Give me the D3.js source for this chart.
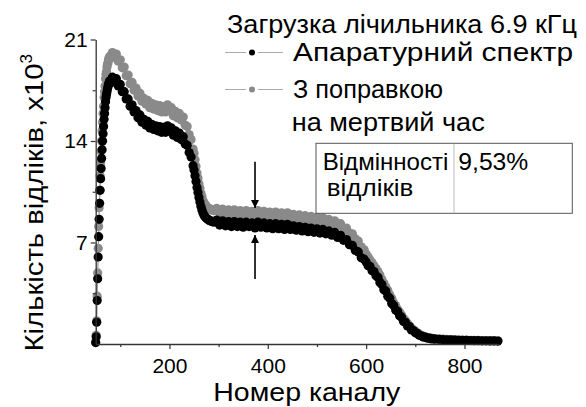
<!DOCTYPE html>
<html><head><meta charset="utf-8">
<script src="https://cdn.jsdelivr.net/npm/d3@7"></script>
<style>body{margin:0;background:#fff} svg{display:block}</style></head><body>
<script>
// ---- data ----
const channels=[50,51,52,53,54,55,56,57,58,59,60,61,62,63,64,65,66,67,68,69,70,71,72,73,74,75,76,77,78,79,
80,84,88,92,96,100,104,108,112,116,120,124,128,132,136,140,144,148,152,156,160,164,168,172,176,180,184,188,192,196,200,204,208,212,216,220,224,228,232,236,240,244,248,
250,252,254,256,258,260,262,264,266,268,270,272,274,276,278,280,282,284,286,288,290,
296,302,308,314,320,326,332,338,344,350,356,362,368,374,380,386,392,398,404,410,416,422,428,434,440,446,452,458,464,470,476,482,488,494,500,506,512,518,524,530,536,542,548,554,560,566,572,578,584,590,596,
600,604,608,612,616,620,624,628,632,636,640,644,648,652,656,660,664,668,672,676,680,684,688,692,696,700,704,708,712,716,720,724,728,732,736,740,
748,756,764,772,780,788,796,804,812,820,828,836,844,852,860,868];
// Апаратурний спектр (x10^3)
const measured=[0.1,0.5,1.5,3.0,4.5,6.0,7.4,8.6,9.7,10.6,11.4,12.1,12.8,13.4,14.0,14.5,15.0,15.5,15.9,16.3,16.7,17.0,17.2,17.4,17.6,17.75,17.9,18.0,18.1,18.15,
18.0,18.4,18.1,18.3,17.8,17.9,17.4,17.4,16.9,16.9,16.4,16.5,16.0,16.1,15.6,15.8,15.3,15.5,15.1,15.35,14.9,15.15,14.8,15.05,14.7,15.0,14.6,14.95,14.6,15.05,14.7,14.9,14.4,14.7,14.25,14.55,14.1,14.3,13.8,13.7,13.2,12.9,12.3,
12.0,11.6,11.2,10.8,10.45,10.1,9.8,9.5,9.25,9.05,8.9,8.8,8.7,8.65,8.6,8.55,8.5,8.5,8.45,8.45,8.4,
8.55,8.2,8.5,8.15,8.45,8.1,8.45,8.1,8.4,8.05,8.4,8.1,8.35,8.0,8.4,8.05,8.35,8.0,8.3,7.95,8.3,7.95,8.25,7.9,8.25,7.9,8.15,7.85,8.1,7.8,8.05,7.75,8.0,7.7,7.95,7.65,7.9,7.6,7.8,7.5,7.7,7.35,7.5,7.15,7.2,6.85,6.8,6.45,6.35,5.95,5.85,
5.65,5.4,5.35,5.05,5.0,4.7,4.6,4.25,4.1,3.75,3.65,3.3,3.15,2.8,2.65,2.35,2.25,1.95,1.85,1.55,1.5,1.25,1.2,0.97,0.93,0.77,0.73,0.6,0.57,0.48,0.48,0.41,0.41,0.36,0.36,0.33,
0.32,0.3,0.29,0.28,0.27,0.26,0.25,0.25,0.24,0.23,0.23,0.22,0.22,0.21,0.21,0.2];
// З поправкою на мертвий час (x10^3)
const corrected=[0.1,0.6,1.6,3.3,4.9,6.6,8.1,9.4,10.6,11.6,12.5,13.3,14.0,14.7,15.3,15.9,16.4,17.0,17.4,17.8,18.3,18.6,18.8,19.1,19.3,19.4,19.6,19.7,19.8,19.85,
19.7,20.1,19.8,20.0,19.5,19.6,19.05,19.1,18.5,18.55,17.95,18.05,17.5,17.65,17.1,17.3,16.75,16.95,16.55,16.8,16.3,16.6,16.2,16.5,16.1,16.45,16.0,16.35,16.0,16.5,16.1,16.3,15.75,16.05,15.6,15.9,15.45,15.65,15.1,15.0,14.45,14.1,13.45,
13.15,12.7,12.25,11.8,11.45,11.05,10.75,10.4,10.15,9.9,9.75,9.65,9.55,9.45,9.4,9.35,9.3,9.3,9.25,9.25,9.2,
9.35,9.05,9.3,9.0,9.25,8.95,9.25,8.95,9.2,8.9,9.2,8.9,9.15,8.85,9.2,8.85,9.15,8.8,9.1,8.75,9.1,8.75,9.05,8.7,9.05,8.7,8.95,8.65,8.9,8.6,8.85,8.55,8.8,8.5,8.75,8.45,8.7,8.4,8.6,8.3,8.5,8.15,8.3,7.95,8.0,7.65,7.6,7.25,7.1,6.7,6.5,
6.2,6.0,5.8,5.6,5.4,5.2,5.0,4.75,4.45,4.2,3.95,3.7,3.4,3.15,2.85,2.65,2.4,2.2,2.0,1.75,1.6,1.42,1.26,1.1,0.98,0.88,0.77,0.68,0.6,0.55,0.5,0.46,0.44,0.4,0.38,0.37,
0.35,0.33,0.32,0.31,0.3,0.28,0.27,0.27,0.26,0.25,0.25,0.24,0.24,0.23,0.23,0.22];
const xTicks=[200,400,600,800];
const xMinor=[100,300,500,700];
const yTicks=[7,14,21];
const yMinor=[3.5,10.5,17.5];
const legendTitle="Загрузка лічильника 6.9 кГц";
const seriesLabels=["Апаратурний спектр","З поправкою","на мертвий час"];
const tableLabel=["Відмінності","відліків"];
const tableValue="9,53%";
const arrowChannel=374;
const arrowTip=[9.38,7.52];
const arrowTail=[12.57,4.48];
const xTitle="Номер каналу";
const yTitle="Кількість відліків, x10";

// ---- drawing ----
const W=586,H=407;
const FONT="'Liberation Sans', Arial, sans-serif";
const svg=d3.select("body").append("svg").attr("width",W).attr("height",H)
  .style("font-family",FONT);
const x=d3.scaleLinear().domain([50,870]).range([95.7,498.9]);
const y=d3.scaleLinear().domain([0,21]).range([344,39.5]);
const AX="#333";

const data=channels.map((c,i)=>({c,m:measured[i],k:corrected[i]}));
const lineK=d3.line().x(d=>x(d.c)).y(d=>y(d.k));
const lineM=d3.line().x(d=>x(d.c)).y(d=>y(d.m));
const R=4.6;

svg.append("path").datum(data).attr("d",lineK).attr("fill","none").attr("stroke","#999").attr("stroke-width",0.8);
svg.append("g").selectAll("circle").data(data).join("circle")
  .attr("cx",d=>x(d.c)).attr("cy",d=>y(d.k)).attr("r",R).attr("fill","#8a8a8a");
svg.append("path").datum(data).attr("d",lineM).attr("fill","none").attr("stroke","#999").attr("stroke-width",0.8);
svg.append("g").selectAll("circle").data(data).join("circle")
  .attr("cx",d=>x(d.c)).attr("cy",d=>y(d.m)).attr("r",R).attr("fill","#000");

function styleAxis(g){
  g.select(".domain").attr("stroke",AX).attr("stroke-width",1.3);
  g.selectAll(".tick line").attr("stroke",AX).attr("stroke-width",1.2);
  g.selectAll("text").attr("fill","#000").style("font-family",FONT);
}
const gx=svg.append("g").attr("transform",`translate(0,${y(0)})`)
  .call(d3.axisBottom(x).tickValues(xTicks).tickSize(5).tickSizeOuter(0).tickPadding(9))
  .call(styleAxis);
gx.selectAll("text").attr("font-size",21);
svg.append("g").attr("transform",`translate(0,${y(0)})`)
  .call(d3.axisBottom(x).tickValues(xMinor).tickSize(3).tickFormat(""))
  .call(g=>g.select(".domain").remove()).call(styleAxis);

const gy=svg.append("g").attr("transform",`translate(${x(50)},0)`)
  .call(d3.axisLeft(y).tickValues(yTicks).tickSize(5).tickSizeOuter(0).tickPadding(3))
  .call(styleAxis);
gy.selectAll("text").attr("font-size",21);
svg.append("g").attr("transform",`translate(${x(50)},0)`)
  .call(d3.axisLeft(y).tickValues(yMinor).tickSize(3).tickFormat(""))
  .call(g=>g.select(".domain").remove()).call(styleAxis);

function txt(xp,yp,size,s,len){
  const t=svg.append("text").attr("x",xp).attr("y",yp).attr("font-size",size).text(s);
  if(len) t.attr("textLength",len).attr("lengthAdjust","spacingAndGlyphs");
  return t;
}
// axis titles
txt(213.3,401,25,xTitle,187);
const yt=svg.append("text").attr("transform","translate(43,351.5) rotate(-90)")
  .attr("font-size",25);
yt.append("tspan").attr("textLength",288).attr("lengthAdjust","spacingAndGlyphs").text(yTitle);
yt.append("tspan").attr("dy",-11).attr("font-size",17).text("3");

// arrows
const defs=svg.append("defs");
defs.append("marker").attr("id","ah").attr("viewBox","0 0 10 10").attr("refX",10).attr("refY",5)
  .attr("markerWidth",5).attr("markerHeight",5).attr("markerUnits","strokeWidth").attr("orient","auto")
  .append("path").attr("d","M0,0 L10,5 L0,10 z").attr("fill","#000");
[0,1].forEach(i=>{
  svg.append("line").attr("x1",x(arrowChannel)).attr("x2",x(arrowChannel))
    .attr("y1",y(arrowTail[i])).attr("y2",y(arrowTip[i]))
    .attr("stroke","#000").attr("stroke-width",1.6).attr("marker-end","url(#ah)");
});

// legend
txt(227,33,25,legendTitle,350);
const legRows=[{y:52.5,fill:"#000",label:seriesLabels[0],ty:61,len:280},{y:89.5,fill:"#8a8a8a",label:seriesLabels[1],ty:97.5,len:150}];
legRows.forEach(r=>{
  svg.append("line").attr("x1",225).attr("x2",283).attr("y1",r.y).attr("y2",r.y).attr("stroke","#aaa").attr("stroke-width",1);
  svg.append("rect").attr("x",246).attr("y",r.y-3).attr("width",12).attr("height",6).attr("fill","#fff");
  svg.append("circle").attr("cx",252).attr("cy",r.y).attr("r",3).attr("fill",r.fill);
  txt(293,r.ty,25,r.label,r.len);
});
txt(291.7,131,25,seriesLabels[2],193);

// table
svg.append("rect").attr("x",316).attr("y",143.3).attr("width",256.3).attr("height",70)
  .attr("fill","#fff").attr("stroke","#555").attr("stroke-width",1);
svg.append("line").attr("x1",454).attr("x2",454).attr("y1",143.8).attr("y2",212.8).attr("stroke","#bbb").attr("stroke-width",1);
txt(322.7,170,24,tableLabel[0],125.7);
txt(326.7,196,24,tableLabel[1],86.7);
txt(458.3,170,24,tableValue,70);
</script>
</body></html>
